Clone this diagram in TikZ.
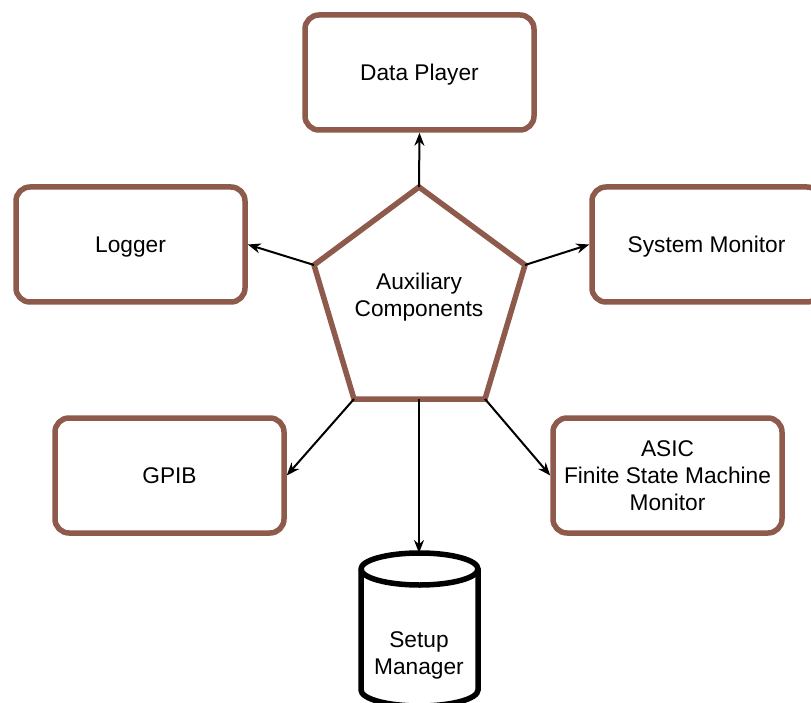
\documentclass[tikz,border=0pt]{standalone}
\usepackage{fontspec}
\setmainfont{Liberation Sans}
\usetikzlibrary{arrows.meta}
\definecolor{boxbrown}{RGB}{142,90,76}
\tikzset{
  compbox/.style={draw=boxbrown, line width=5.5pt, rounded corners=14pt,
    minimum width=229pt, minimum height=115pt, align=center, fill=white,
    text depth=0pt, font=\fontsize{22.7}{27}\selectfont},
  lbl/.style={align=center, text depth=0pt, font=\fontsize{22.7}{27}\selectfont},
  conn/.style={draw=black, line width=2pt, -{Stealth[length=13pt,width=10pt]}}
}
\begin{document}
\begin{tikzpicture}[x=1pt,y=-1pt]
\useasboundingbox (0,0) rectangle (811,703);
\clip (0,0) rectangle (811,703);
\fill[white] (0,0) rectangle (811,703);

% pentagon hub
\coordinate (ptop) at (419,187);
\coordinate (pul) at (314,265);
\coordinate (pur) at (525,265);
\coordinate (pll) at (354,399);
\coordinate (plr) at (485,399);
\coordinate (pbot) at (419,399);
\draw[boxbrown, line width=5.5pt, line join=miter] (ptop) -- (pur) -- (plr) -- (pll) -- (pul) -- cycle;
\node[lbl] (hub) at (419,295) {Auxiliary\\Components};

% component boxes
\node[compbox] (dp) at (419.5,72.5) {Data Player};
\node[compbox] (logger) at (130.5,244.5) {Logger};
\node[compbox] (sysmon) at (706.5,244.5) {System Monitor};
\node[compbox] (gpib) at (169.5,475.5) {GPIB};
\node[compbox] (asic) at (667.5,475.5) {ASIC\\Finite State Machine\\Monitor};

% database cylinder
\coordinate (cyltop) at (419,553);
\draw[black, line width=5.5pt, fill=white]
  (361,569) -- (361,690) arc[start angle=180, end angle=0, x radius=58.5, y radius=16]
  -- (478,569) arc[start angle=360, end angle=180, x radius=58.5, y radius=16] -- cycle;
\draw[black, line width=5.5pt] (361,569) arc[start angle=180, end angle=0, x radius=58.5, y radius=16];
\node[lbl] (setup) at (419,653) {Setup\\Manager};

% connectors
\draw[conn] (ptop) -- (dp.south);
\draw[conn] (pul) -- (logger.east);
\draw[conn] (pur) -- (sysmon.west);
\draw[conn] (pll) -- (gpib.east);
\draw[conn] (plr) -- (asic.west);
\draw[conn] (pbot) -- (cyltop);
\end{tikzpicture}
\end{document}
